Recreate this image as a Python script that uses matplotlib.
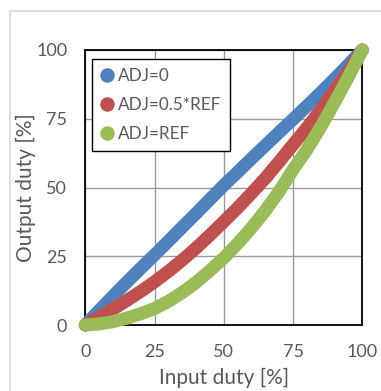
import matplotlib
matplotlib.use("Agg")
import matplotlib.pyplot as plt
from matplotlib.patches import Rectangle

# (step 5 in input duty)
input_duty = [0, 5, 10, 15, 20, 25, 30, 35, 40, 45, 50,
              55, 60, 65, 70, 75, 80, 85, 90, 95, 100]
out_adj0 = [0, 5.3, 10.5, 15.6, 20.6, 25.5, 30.5, 35.6, 40.6, 45.7, 50.8,
            55.6, 60.5, 65.3, 70.1, 74.8, 79.6, 84.5, 89.5, 94.7, 100]
out_adj_half = [0, 2.8, 5.8, 8.9, 12.2, 15.7, 19.5, 23.6, 28.0, 32.7, 37.6,
                42.6, 47.9, 53.4, 59.4, 65.6, 71.7, 78.2, 85.1, 92.4, 100]
out_adj_ref = [0, 0.4, 1.2, 2.5, 4.1, 6.0, 8.6, 11.8, 15.5, 19.8, 24.4,
               29.6, 35.3, 41.6, 48.6, 56.5, 63.8, 72.0, 81.0, 90.3, 100]
labels = ["ADJ=0", "ADJ=0.5*REF", "ADJ=REF"]
colors = ["#4F81BD", "#C0504D", "#9BBB59"]
ticks = [0, 25, 50, 75, 100]

plt.rcParams["font.family"] = ["Lato", "DejaVu Sans"]
TXT = "#595959"

W, H = 381, 391
fig = plt.figure(figsize=(W / 100, H / 100), dpi=100)

# light chart-area border (only top/left visible in the reference)
fig.patches.append(Rectangle((10 / W, -0.1), 1.2, 1 - 11 / H + 0.1,
                             transform=fig.transFigure, fill=False,
                             edgecolor="#d9d9d9", linewidth=1.2))

ax = fig.add_axes([85.3 / W, (H - 325) / H, 277 / W, 275 / H])
ax.set_xlim(0, 100)
ax.set_ylim(0, 100)

for ys, lab, c in zip([out_adj0, out_adj_half, out_adj_ref], labels, colors):
    ax.plot(input_duty, ys, color=c, linewidth=9.4, solid_capstyle="round",
            solid_joinstyle="round", clip_on=False, zorder=3)
    # legend handle only
    ax.plot([], [], "o", color=c, markersize=9.4, label=lab)

ax.set_xticks(ticks)
ax.set_yticks(ticks)
ax.grid(True, color="#999999", linewidth=1)
ax.set_axisbelow(True)
ax.tick_params(length=0, labelsize=13, labelcolor=TXT)
ax.tick_params(axis="x", pad=14)
ax.tick_params(axis="y", pad=13)
for sp in ax.spines.values():
    sp.set_color("black")
    sp.set_linewidth(1.3)

ax.set_xlabel("Input duty [%]", fontsize=15, color=TXT, labelpad=5.5)
ax.set_ylabel("Output duty [%]", fontsize=15, color=TXT, labelpad=0)

leg = ax.legend(loc="upper left", bbox_to_anchor=(92 / W, 1 - 59 / H),
                bbox_transform=fig.transFigure, borderaxespad=0,
                fontsize=12.3, frameon=True, fancybox=False, framealpha=1,
                edgecolor="black", handlelength=0.6, handletextpad=0.35,
                labelspacing=0.75, borderpad=0.55)
leg.get_frame().set_linewidth(1.0)
for t in leg.get_texts():
    t.set_color(TXT)

fig.savefig("out.png", dpi=100)
